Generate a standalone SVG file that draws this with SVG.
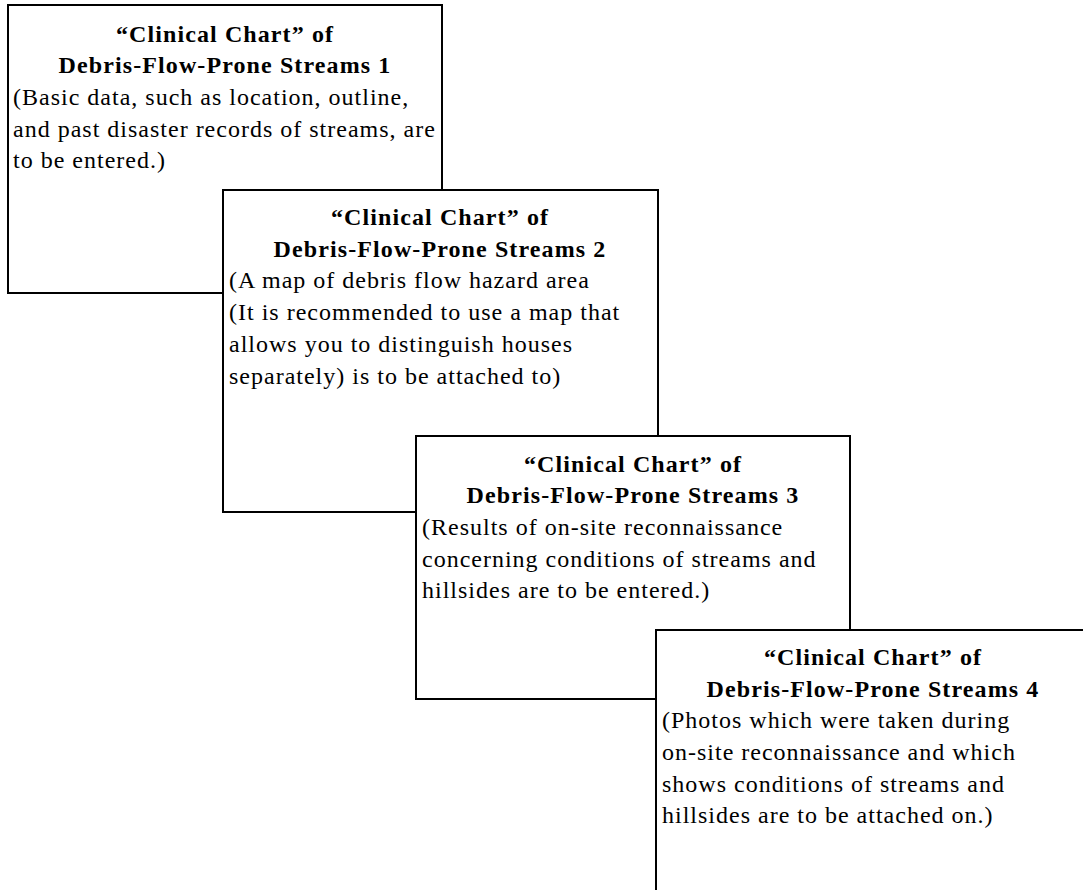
<svg xmlns="http://www.w3.org/2000/svg" width="1083" height="890" viewBox="0 0 1083 890">
<style>
.box{fill:#fff;stroke:#000;stroke-width:2}
.t{font-family:'Liberation Serif','Times New Roman',serif;font-size:24px;font-weight:bold;letter-spacing:1.1px;text-anchor:middle;fill:#000}
.b{font-family:'Liberation Serif','Times New Roman',serif;font-size:24px;letter-spacing:1px;fill:#000}
</style>
<rect width="1083" height="890" fill="#fff"/>
<g id="connectors"></g>
<g id="chart1">
<rect class="box" x="8" y="5" width="434" height="288"/>
<text class="t" x="225" y="42">“Clinical Chart” of</text>
<text class="t" x="225" y="73">Debris-Flow-Prone Streams 1</text>
<text class="b" x="13" y="105">(Basic data, such as location, outline,</text>
<text class="b" x="13" y="137">and past disaster records of streams, are</text>
<text class="b" x="13" y="168">to be entered.)</text>
</g>
<g id="chart2">
<rect class="box" x="223" y="190" width="435" height="322"/>
<text class="t" x="440" y="225">“Clinical Chart” of</text>
<text class="t" x="440" y="257">Debris-Flow-Prone Streams 2</text>
<text class="b" x="229" y="288">(A map of debris flow hazard area</text>
<text class="b" x="229" y="320">(It is recommended to use a map that</text>
<text class="b" x="229" y="352">allows you to distinguish houses</text>
<text class="b" x="229" y="384">separately) is to be attached to)</text>
</g>
<g id="chart3">
<rect class="box" x="416" y="436" width="434" height="263"/>
<text class="t" x="633" y="472">“Clinical Chart” of</text>
<text class="t" x="633" y="503">Debris-Flow-Prone Streams 3</text>
<text class="b" x="422" y="535">(Results of on-site reconnaissance</text>
<text class="b" x="422" y="567">concerning conditions of streams and</text>
<text class="b" x="422" y="598">hillsides are to be entered.)</text>
</g>
<g id="chart4">
<rect class="box" x="656" y="630" width="450" height="300"/>
<text class="t" x="873" y="665">“Clinical Chart” of</text>
<text class="t" x="873" y="697">Debris-Flow-Prone Streams 4</text>
<text class="b" x="662" y="728">(Photos which were taken during</text>
<text class="b" x="662" y="760">on-site reconnaissance and which</text>
<text class="b" x="662" y="792">shows conditions of streams and</text>
<text class="b" x="662" y="823">hillsides are to be attached on.)</text>
</g>
</svg>
